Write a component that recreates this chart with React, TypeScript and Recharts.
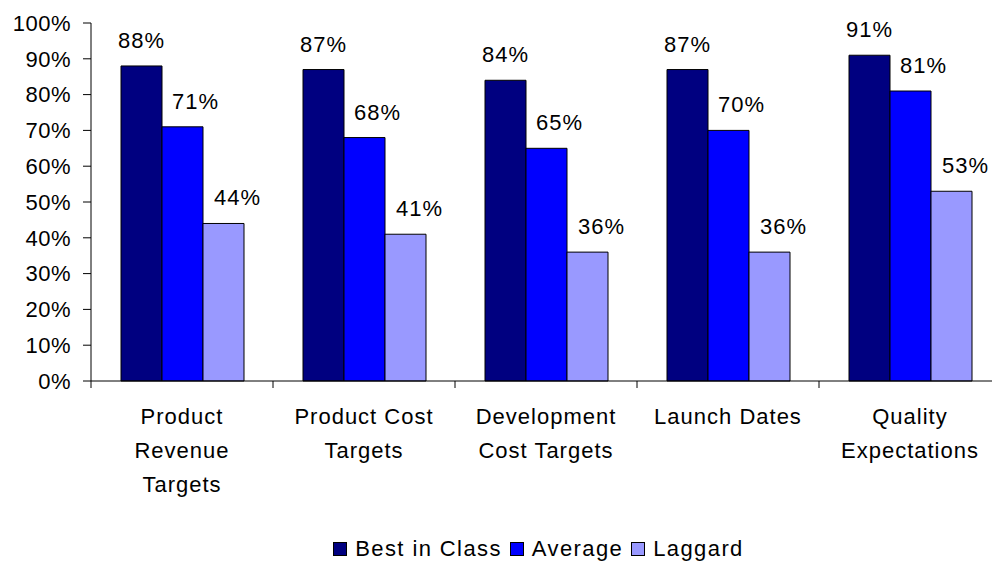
import React from 'react';
import { BarChart, Bar, XAxis, YAxis, Legend, LabelList } from 'recharts';

const categories = [
  'Product\nRevenue\nTargets',
  'Product Cost\nTargets',
  'Development\nCost Targets',
  'Launch Dates',
  'Quality\nExpectations',
];
const bestInClass = [0.88, 0.87, 0.84, 0.87, 0.91];
const average = [0.71, 0.68, 0.65, 0.7, 0.81];
const laggard = [0.44, 0.41, 0.36, 0.36, 0.53];
const yTicks = [0, 0.1, 0.2, 0.3, 0.4, 0.5, 0.6, 0.7, 0.8, 0.9, 1];

const FONT = '"Liberation Sans", Arial, sans-serif';

const series = [
  { key: 'best', name: 'Best in Class', color: '#000080', dx: 0 },
  { key: 'avg', name: 'Average', color: '#0000FF', dx: 13 },
  { key: 'lag', name: 'Laggard', color: '#9999FF', dx: 14 },
];

const data = categories.map((c, i) => ({
  name: c,
  best: bestInClass[i],
  avg: average[i],
  lag: laggard[i],
}));

const pct = (v: number) => `${Math.round(v * 100)}%`;

const CategoryTick = (props: any) => {
  const { x, y, payload, bandWidth } = props;
  const lines = String(payload.value).split('\n');
  const left = x - bandWidth / 2;
  return (
    <g>
      <line x1={left} y1={y - 8} x2={left} y2={y - 1} stroke="#000" />
      <text
        textAnchor="middle"
        fill="#000"
        fontSize={22}
        fontFamily={FONT}
        letterSpacing={1}
      >
        {lines.map((l, i) => (
          <tspan key={i} x={x} y={y + 35 + i * 34}>
            {l}
          </tspan>
        ))}
      </text>
    </g>
  );
};

const makeLabel = (dx: number) => (props: any) => {
  const { x, y, width, value } = props;
  return (
    <text
      x={x + width / 2 + dx}
      y={y - 18}
      textAnchor="middle"
      fill="#000"
      fontSize={22}
      fontFamily={FONT}
      letterSpacing={1}
    >
      {pct(value)}
    </text>
  );
};

const LegendContent = () => (
  <div
    style={{
      display: 'flex',
      justifyContent: 'center',
      alignItems: 'center',
      height: 28,
      paddingTop: 4,
      boxSizing: 'border-box',
      paddingLeft: 84,
      fontFamily: FONT,
      fontSize: 22,
      letterSpacing: 1.4,
      color: '#000',
    }}
  >
    {series.map((s) => (
      <div key={s.key} style={{ display: 'flex', alignItems: 'center', marginRight: 8 }}>
        <span
          style={{
            display: 'inline-block',
            width: 12,
            height: 12,
            background: s.color,
            border: '1px solid #000',
            marginRight: 8,
          }}
        />
        <span>{s.name}</span>
      </div>
    ))}
  </div>
);

export default function App() {
  return (
    <div
      style={{
        position: 'absolute',
        left: 0,
        top: 0,
        width: 992,
        height: 561,
        overflow: 'hidden',
        background: '#fff',
      }}
    >
      <BarChart
        width={1010}
        height={561}
        data={data}
        margin={{ top: 23, right: 9, left: 0, bottom: 0 }}
        barCategoryGap={30}
        barGap={0}
      >
        <YAxis
          width={91}
          domain={[0, 1]}
          ticks={yTicks}
          tickFormatter={pct}
          tickSize={8}
          tickMargin={12}
          axisLine={{ stroke: '#000' }}
          tickLine={{ stroke: '#000' }}
          tick={{ fill: '#000', fontSize: 22, fontFamily: FONT, letterSpacing: 0.5 }}
          interval={0}
        />
        <XAxis
          dataKey="name"
          height={152}
          axisLine={{ stroke: '#000' }}
          tickLine={false}
          interval={0}
          tick={(p: any) => <CategoryTick {...p} bandWidth={182} />}
        />
        <Legend verticalAlign="bottom" content={<LegendContent />} />
        {series.map((s) => (
          <Bar
            key={s.key}
            dataKey={s.key}
            name={s.name}
            fill={s.color}
            stroke="#000"
            strokeWidth={1}
            isAnimationActive={false}
          >
            <LabelList dataKey={s.key} content={makeLabel(s.dx)} />
          </Bar>
        ))}
      </BarChart>
    </div>
  );
}
